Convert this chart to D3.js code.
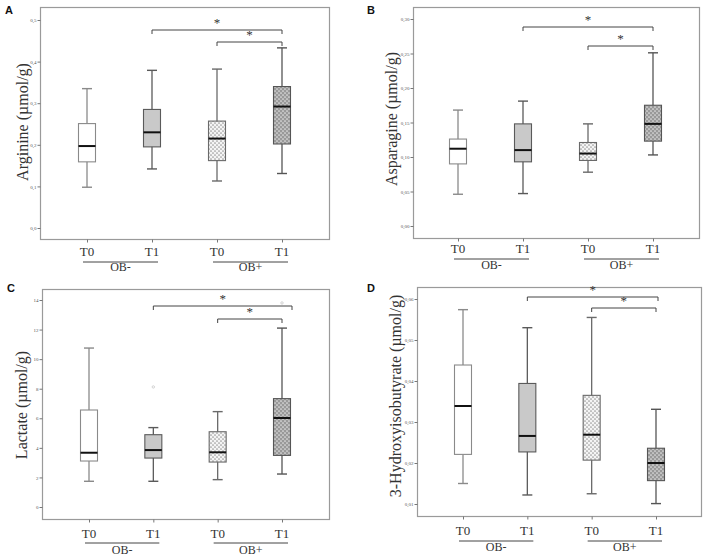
<!DOCTYPE html>
<html><head><meta charset="utf-8">
<script src="https://cdn.jsdelivr.net/npm/d3@7"></script>
<style>
html,body{margin:0;padding:0;background:#fff;}
svg{display:block;}
</style></head>
<body>
<svg id="chart" width="708" height="557"></svg>
<script>
// ---- data ----
const categories = ["OB- T0", "OB- T1", "OB+ T0", "OB+ T1"];
const timeLabels = ["T0", "T1", "T0", "T1"];
const groupLabels = ["OB-", "OB+"];
const panelLetters = ["A", "B", "C", "D"];
const yTitles = ["Arginine (\u00b5mol/g)", "Asparagine (\u00b5mol/g)", "Lactate (\u00b5mol/g)", "3-Hydroxyisobutyrate (\u00b5mol/g)"];
// each row: [min, q1, median, q3, max]
const arginine = [[0.098,0.159,0.197,0.251,0.335],[0.142,0.195,0.230,0.285,0.379],[0.113,0.162,0.215,0.257,0.382],[0.131,0.202,0.292,0.340,0.433]];
const asparagine = [[0.046,0.090,0.112,0.126,0.168],[0.047,0.093,0.110,0.148,0.181],[0.078,0.095,0.105,0.121,0.148],[0.103,0.123,0.148,0.175,0.251]];
const lactate = [[1.74,3.11,3.67,6.56,10.75],[1.74,3.31,3.85,4.89,5.37],[1.85,3.04,3.70,5.09,6.45],[2.23,3.49,6.02,7.33,12.1]];
const hydroxyisobutyrate = [[0.0150,0.0221,0.0339,0.0439,0.0574],[0.0122,0.0227,0.0266,0.0394,0.0530],[0.0125,0.0207,0.0269,0.0365,0.0555],[0.0101,0.0157,0.0200,0.0236,0.0331]];
const lactateOutliers = [[1, 8.12], [3, 13.8]]; // [category index, value]
const argTicks = [0, 0.1, 0.2, 0.3, 0.4, 0.5];
const aspTicks = [0, 0.05, 0.10, 0.15, 0.20, 0.25, 0.30];
const lacTicks = [0, 2, 4, 6, 8, 10, 12, 14];
const hibTicks = [0.01, 0.02, 0.03, 0.04, 0.05, 0.06];
const comparisons = [[1, 3], [2, 3]]; // significant pairs (*)

// ---- layout ----
const panels = [
  {stats: arginine, ticks: argTicks, fmt: d => d3.format(".1f")(d).replace(".", ","), dom: [0, 0.5],
   frame: {x0: 40, x1: 329, y0: 7, y1: 239}, yr: [228, 20], xr: [87, 282], letter: [5, 14],
   title: [28, 122], tl: [256, 262, 271], br: [23, 35], brExtra: [0, 0], outliers: []},
  {stats: asparagine, ticks: aspTicks, fmt: d => d3.format(".2f")(d).replace(".", ","), dom: [0, 0.30],
   frame: {x0: 413, x1: 699, y0: 7, y1: 238}, yr: [226, 19], xr: [458, 653], letter: [367, 14],
   title: [397, 119], tl: [253, 259, 269], br: [20, 39], brExtra: [0, 0], outliers: []},
  {stats: lactate, ticks: lacTicks, fmt: d => String(d), dom: [0, 14],
   frame: {x0: 42, x1: 329, y0: 289, y1: 519}, yr: [507, 300], xr: [89, 282], letter: [7, 292],
   title: [27, 405], tl: [538, 543, 554], br: [17, 30], brExtra: [10, 0], outliers: lactateOutliers},
  {stats: hydroxyisobutyrate, ticks: hibTicks, fmt: d => d3.format(".2f")(d).replace(".", ","), dom: [0.01, 0.06],
   frame: {x0: 417, x1: 701, y0: 287, y1: 516}, yr: [504, 299], xr: [463, 656], letter: [367, 292],
   title: [401, 396], tl: [535, 541, 551], br: [10, 21], brExtra: [2, 0], outliers: []}
];

const svg = d3.select("#chart");
const defs = svg.append("defs");
function dotPattern(id, bg, dot, r) {
  const p = defs.append("pattern").attr("id", id).attr("patternUnits", "userSpaceOnUse")
    .attr("width", 4).attr("height", 4);
  p.append("rect").attr("width", 4).attr("height", 4).attr("fill", bg);
  p.append("circle").attr("cx", 1).attr("cy", 1).attr("r", r).attr("fill", dot);
  p.append("circle").attr("cx", 3).attr("cy", 3).attr("r", r).attr("fill", dot);
}
dotPattern("lightDots", "#f4f4f4", "#9a9a9a", 0.85);
dotPattern("darkDots", "#999999", "#e2e2e2", 0.85);

const fills = ["#ffffff", "#c9c9c9", "url(#lightDots)", "url(#darkDots)"];
const strokes = ["#8a8a8a", "#5a5a5a", "#6a6a6a", "#555555"];
const serif = "'Liberation Serif','DejaVu Serif',serif";

panels.forEach((P, pi) => {
  const g = svg.append("g");
  const f = P.frame;
  const y = d3.scaleLinear().domain(P.dom).range(P.yr);
  const x = d3.scalePoint().domain(categories).range(P.xr);

  // frame
  g.append("rect").attr("x", f.x0 + 0.5).attr("y", f.y0 + 0.5)
    .attr("width", f.x1 - f.x0).attr("height", f.y1 - f.y0)
    .attr("fill", "none").attr("stroke", "#9a9a9a").attr("stroke-width", 1.2);

  // y axis
  const yAxis = d3.axisLeft(y).tickValues(P.ticks).tickFormat(P.fmt).tickSize(3).tickPadding(1);
  const ya = g.append("g").attr("transform", `translate(${f.x0 + 0.5},0)`).call(yAxis);
  ya.select(".domain").remove();
  ya.selectAll("line").attr("stroke", "#777");
  ya.selectAll("text").attr("font-family", serif).attr("font-size", 5).attr("fill", "#555");

  // x axis
  const xAxis = d3.axisBottom(x).tickSize(3).tickFormat("");
  const xa = g.append("g").attr("transform", `translate(0,${f.y1 + 0.5})`).call(xAxis);
  xa.select(".domain").remove();
  xa.selectAll("line").attr("stroke", "#777");

  // x labels
  g.selectAll(".tl").data(categories).enter().append("text")
    .attr("x", d => x(d)).attr("y", P.tl[0]).attr("text-anchor", "middle")
    .attr("font-family", serif).attr("font-size", 13).attr("fill", "#333")
    .text((d, i) => timeLabels[i]);
  groupLabels.forEach((gl, gi) => {
    const a = x(categories[gi * 2]), b = x(categories[gi * 2 + 1]);
    g.append("line").attr("x1", a - 4).attr("x2", b + 6).attr("y1", P.tl[1]).attr("y2", P.tl[1])
      .attr("stroke", "#444").attr("stroke-width", 1);
    g.append("text").attr("x", (a + b) / 2 + 1).attr("y", P.tl[2]).attr("text-anchor", "middle")
      .attr("font-family", serif).attr("font-size", 12).attr("fill", "#333").text(gl);
  });

  // y title
  g.append("text").attr("transform", `translate(${P.title[0]},${P.title[1]}) rotate(-90)`)
    .attr("text-anchor", "middle").attr("font-family", serif).attr("font-size", 16)
    .attr("fill", "#333").text(yTitles[pi]);

  // panel letter
  g.append("text").attr("x", P.letter[0]).attr("y", P.letter[1])
    .attr("font-family", "'Liberation Sans',Arial,sans-serif").attr("font-weight", "bold")
    .attr("font-size", 11).attr("fill", "#111").text(panelLetters[pi]);

  // boxes
  const bw = 17, cw = 10;
  const bx = g.selectAll(".box").data(P.stats).enter().append("g");
  bx.append("line").attr("x1", (d, i) => x(categories[i])).attr("x2", (d, i) => x(categories[i]))
    .attr("y1", d => y(d[0])).attr("y2", d => y(d[4]))
    .attr("stroke", (d, i) => strokes[i]).attr("stroke-width", 1.3);
  [0, 4].forEach(k => {
    bx.append("line").attr("x1", (d, i) => x(categories[i]) - cw / 2).attr("x2", (d, i) => x(categories[i]) + cw / 2)
      .attr("y1", d => y(d[k])).attr("y2", d => y(d[k]))
      .attr("stroke", (d, i) => strokes[i]).attr("stroke-width", 1.4);
  });
  bx.append("rect").attr("x", (d, i) => x(categories[i]) - bw / 2).attr("width", bw)
    .attr("y", d => y(d[3])).attr("height", d => y(d[1]) - y(d[3]))
    .attr("fill", (d, i) => fills[i]).attr("stroke", (d, i) => strokes[i]).attr("stroke-width", 1.1);
  bx.append("line").attr("x1", (d, i) => x(categories[i]) - bw / 2).attr("x2", (d, i) => x(categories[i]) + bw / 2)
    .attr("y1", d => y(d[2])).attr("y2", d => y(d[2]))
    .attr("stroke", "#111").attr("stroke-width", 2);

  // outliers
  g.selectAll(".out").data(P.outliers).enter().append("circle")
    .attr("cx", d => x(categories[d[0]])).attr("cy", d => y(d[1])).attr("r", 1.2)
    .attr("fill", "none").attr("stroke", "#c8c8c8").attr("stroke-width", 0.8);

  // significance brackets
  comparisons.forEach((c, ci) => {
    const a = x(categories[c[0]]), b = x(categories[c[1]]) + P.brExtra[ci];
    const yy = f.y0 + P.br[ci];
    g.append("path").attr("d", `M${a},${yy + 4}V${yy}H${b}V${yy + 4}`)
      .attr("fill", "none").attr("stroke", "#444").attr("stroke-width", 1);
    g.append("text").attr("x", (a + b) / 2).attr("y", yy - 9 + 6).attr("text-anchor", "middle")
      .attr("font-family", serif).attr("font-size", 13).attr("fill", "#333").text("*");
  });
});
</script>
</body></html>
